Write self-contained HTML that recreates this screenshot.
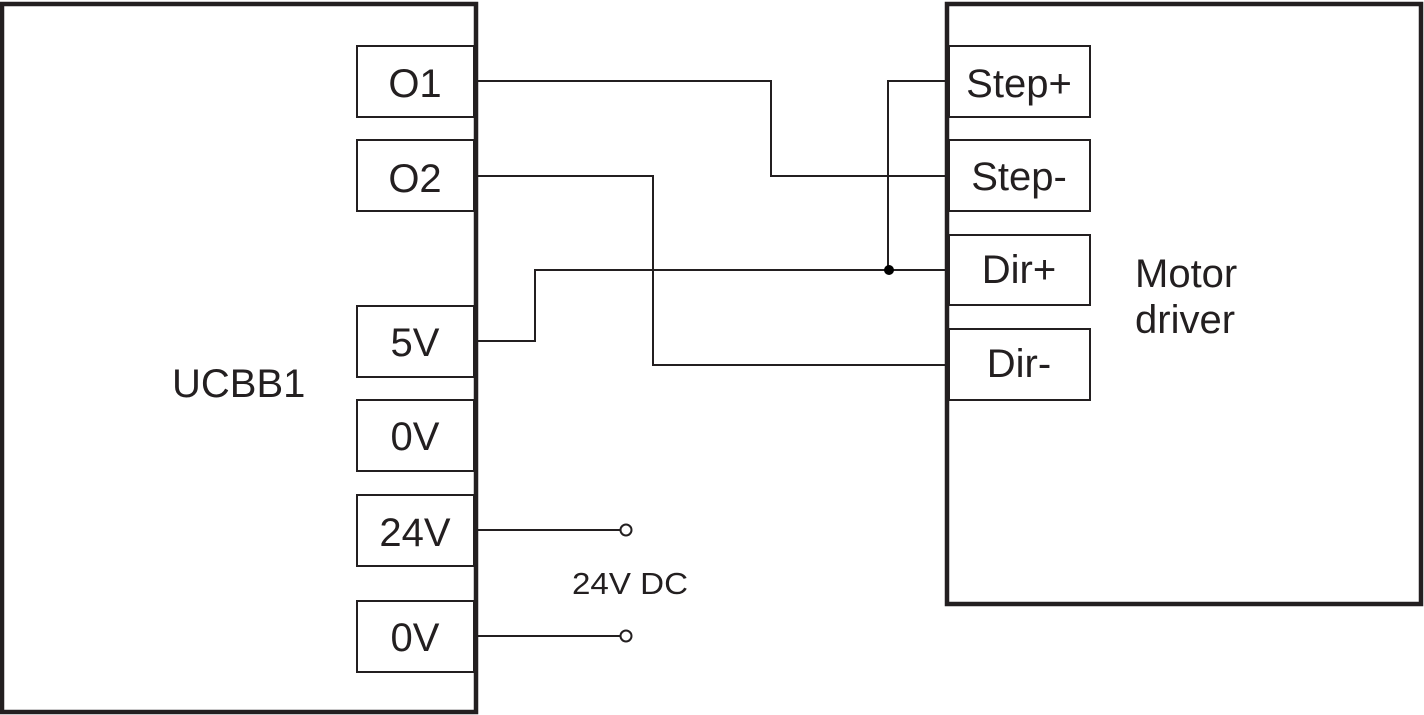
<!DOCTYPE html>
<html><head><style>
html,body{margin:0;padding:0;background:#fff;}
svg{display:block;}
text{font-family:"Liberation Sans",sans-serif;fill:#231f20;}
</style></head><body>
<svg width="1424" height="715" viewBox="0 0 1424 715">
<g fill="none" stroke="#231f20">
<rect x="2" y="4" width="474" height="708" stroke-width="4.5"/>
<rect x="947" y="4" width="474" height="600" stroke-width="4.5"/>
<g stroke-width="2">
<rect x="357" y="46" width="117" height="71"/>
<rect x="357" y="140" width="117" height="71"/>
<rect x="357" y="306" width="117" height="71"/>
<rect x="357" y="400" width="117" height="71"/>
<rect x="357" y="495" width="117" height="71"/>
<rect x="357" y="601" width="117" height="71"/>
<rect x="949" y="46" width="141" height="71"/>
<rect x="949" y="140" width="141" height="71"/>
<rect x="949" y="235" width="141" height="70"/>
<rect x="949" y="329" width="141" height="71"/>
<polyline points="478,81 771,81 771,176 948,176"/>
<polyline points="478,176 653,176 653,365 948,365"/>
<polyline points="478,341 535,341 535,270 948,270"/>
<polyline points="948,81 888,81 888,270"/>
<line x1="478" y1="530" x2="620" y2="530"/>
<line x1="478" y1="636" x2="620" y2="636"/>
<circle cx="626" cy="530" r="5.5" fill="#fff"/>
<circle cx="626" cy="636" r="5.5" fill="#fff"/>
</g>
</g>
<circle cx="889" cy="270" r="5" fill="#000"/>
<g font-size="40" text-anchor="middle">
<text x="415" y="97">O1</text>
<text x="415" y="192">O2</text>
<text x="415" y="356">5V</text>
<text x="415" y="450">0V</text>
<text x="415" y="546">24V</text>
<text x="415" y="651">0V</text>
<text x="1019" y="97">Step+</text>
<text x="1019" y="190">Step-</text>
<text x="1019" y="283">Dir+</text>
<text x="1019" y="377">Dir-</text>
</g>
<text x="172" y="397" font-size="40">UCBB1</text>
<text x="1135" y="287" font-size="40">Motor</text>
<text x="1135" y="333" font-size="40">driver</text>
<text x="572" y="594" font-size="31" textLength="116" lengthAdjust="spacingAndGlyphs">24V DC</text>
</svg>
</body></html>
